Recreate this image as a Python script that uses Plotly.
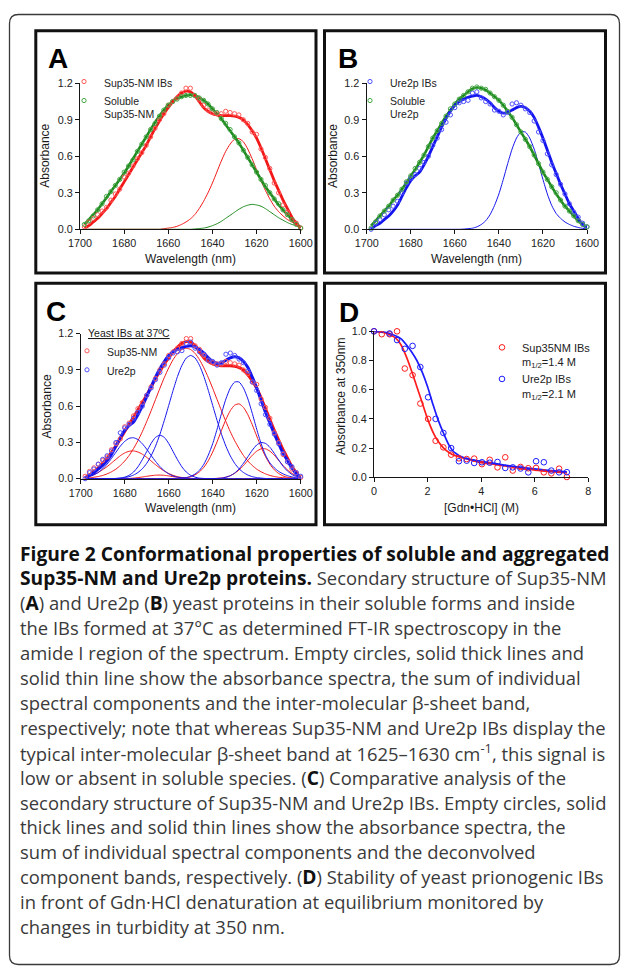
import plotly.graph_objects as go

W, H = 629, 969

# ---------------- data ----------------
# wavelength grid of the FT-IR spectra (nm, as labelled in the figure)
WL = [1698, 1696, 1694, 1692, 1690, 1688, 1686, 1684, 1682, 1680,
      1678, 1676, 1674, 1672, 1670, 1668, 1666, 1664, 1662, 1660,
      1658, 1656, 1654, 1652, 1650, 1648, 1646, 1644, 1642, 1640,
      1638, 1636, 1634, 1632, 1630, 1628, 1626, 1624, 1622, 1620,
      1618, 1616, 1614, 1612, 1610, 1608, 1606, 1604, 1602, 1600]

# Sup35-NM IBs (panels A and C)
SUP_IB_DATA = [0.02, 0.06, 0.09, 0.12, 0.15, 0.18, 0.24, 0.29, 0.33, 0.43,
               0.46, 0.52, 0.58, 0.63, 0.69, 0.76, 0.83, 0.90, 0.95, 1.02,
               1.05, 1.08, 1.12, 1.16, 1.16, 1.10, 1.07, 1.02, 0.98, 0.96,
               0.95, 0.95, 0.97, 0.96, 0.95, 0.94, 0.90, 0.87, 0.80, 0.78,
               0.66, 0.59, 0.50, 0.38, 0.30, 0.20, 0.14, 0.08, 0.05, 0.01]
SUP_IB_FIT = [0.01, 0.03, 0.06, 0.09, 0.13, 0.17, 0.22, 0.27, 0.33, 0.39,
              0.45, 0.51, 0.57, 0.63, 0.69, 0.76, 0.83, 0.89, 0.95, 1.00,
              1.05, 1.09, 1.12, 1.135, 1.13, 1.10, 1.05, 1.00, 0.97, 0.95,
              0.94, 0.935, 0.935, 0.935, 0.93, 0.92, 0.90, 0.86, 0.81, 0.75,
              0.67, 0.58, 0.49, 0.40, 0.32, 0.24, 0.17, 0.10, 0.05, 0.01]
SUP_IB_BAND = [0, 0, 0, 0, 0, 0, 0, 0, 0, 0,
               0, 0, 0, 0, 0, 0, 0, 0, 0.005, 0.01,
               0.015, 0.025, 0.04, 0.06, 0.085, 0.12, 0.17, 0.23, 0.30, 0.38,
               0.47, 0.56, 0.64, 0.70, 0.74, 0.745, 0.72, 0.66, 0.58, 0.49,
               0.40, 0.32, 0.25, 0.19, 0.145, 0.11, 0.08, 0.06, 0.04, 0.03]
# soluble Sup35-NM (panel A)
SUP_SOL_DATA = [0.04, 0.07, 0.11, 0.16, 0.21, 0.27, 0.31, 0.36, 0.41, 0.47,
                0.52, 0.57, 0.64, 0.70, 0.76, 0.82, 0.87, 0.93, 0.98, 1.02,
                1.05, 1.07, 1.09, 1.10, 1.10, 1.10, 1.08, 1.06, 1.03, 0.99,
                0.96, 0.91, 0.87, 0.82, 0.76, 0.71, 0.65, 0.59, 0.53, 0.47,
                0.41, 0.36, 0.30, 0.25, 0.21, 0.16, 0.12, 0.08, 0.04, 0.01]
SUP_SOL_FIT = [0.04, 0.08, 0.12, 0.16, 0.21, 0.26, 0.31, 0.36, 0.41, 0.46,
               0.52, 0.58, 0.64, 0.70, 0.76, 0.82, 0.88, 0.93, 0.98, 1.02,
               1.05, 1.075, 1.09, 1.10, 1.105, 1.10, 1.085, 1.06, 1.03, 0.99,
               0.95, 0.91, 0.86, 0.81, 0.76, 0.71, 0.65, 0.59, 0.53, 0.47,
               0.41, 0.35, 0.30, 0.25, 0.20, 0.16, 0.12, 0.08, 0.04, 0.01]
SUP_SOL_BAND = [0, 0, 0, 0, 0, 0, 0, 0, 0, 0,
                0, 0, 0, 0, 0, 0, 0, 0, 0, 0,
                0, 0, 0, 0, 0, 0.003, 0.006, 0.01, 0.018, 0.03,
                0.045, 0.065, 0.09, 0.115, 0.14, 0.165, 0.185, 0.198, 0.205, 0.20,
                0.19, 0.17, 0.145, 0.12, 0.095, 0.075, 0.055, 0.04, 0.03, 0.02]

# Ure2p IBs (panels B and C)
URE_IB_DATA = [0.00, 0.05, 0.08, 0.12, 0.16, 0.19, 0.23, 0.30, 0.38, 0.42,
               0.45, 0.50, 0.55, 0.60, 0.69, 0.75, 0.82, 0.88, 0.94, 1.00,
               1.04, 1.05, 1.06, 1.12, 1.13, 1.08, 1.05, 1.03, 0.98, 0.97,
               0.94, 0.96, 1.03, 1.04, 1.02, 0.99, 0.96, 0.89, 0.80, 0.73,
               0.62, 0.53, 0.45, 0.37, 0.29, 0.21, 0.14, 0.10, 0.05, 0.02]
URE_IB_FIT = [0.00, 0.03, 0.05, 0.08, 0.11, 0.15, 0.20, 0.27, 0.34, 0.40,
              0.44, 0.47, 0.53, 0.60, 0.68, 0.76, 0.84, 0.91, 0.97, 1.02,
              1.05, 1.07, 1.085, 1.095, 1.10, 1.09, 1.07, 1.04, 1.00, 0.97,
              0.955, 0.96, 0.98, 1.00, 1.01, 1.00, 0.97, 0.92, 0.84, 0.75,
              0.65, 0.55, 0.46, 0.37, 0.29, 0.21, 0.15, 0.09, 0.04, 0.01]
URE_IB_BAND = [0, 0, 0, 0, 0, 0, 0, 0, 0, 0,
               0, 0, 0, 0, 0, 0, 0, 0, 0, 0,
               0, 0.002, 0.005, 0.009, 0.02, 0.039, 0.07, 0.12, 0.195, 0.29,
               0.41, 0.54, 0.66, 0.75, 0.80, 0.80, 0.75, 0.66, 0.54, 0.41,
               0.29, 0.195, 0.13, 0.09, 0.06, 0.04, 0.025, 0.015, 0.008, 0.004]
# soluble Ure2p (panel B)
URE_SOL_DATA = [0.01, 0.06, 0.11, 0.15, 0.19, 0.24, 0.28, 0.33, 0.39, 0.44,
                0.50, 0.55, 0.61, 0.68, 0.75, 0.81, 0.87, 0.93, 0.99, 1.03,
                1.07, 1.10, 1.13, 1.16, 1.17, 1.16, 1.15, 1.12, 1.09, 1.06,
                1.02, 0.97, 0.92, 0.86, 0.80, 0.74, 0.68, 0.61, 0.54, 0.47,
                0.41, 0.35, 0.30, 0.24, 0.19, 0.15, 0.11, 0.07, 0.04, 0.02]
URE_SOL_FIT = [0.03, 0.07, 0.11, 0.15, 0.19, 0.24, 0.28, 0.33, 0.38, 0.44,
               0.49, 0.55, 0.61, 0.68, 0.75, 0.81, 0.87, 0.93, 0.98, 1.03,
               1.07, 1.10, 1.13, 1.155, 1.165, 1.16, 1.145, 1.12, 1.09, 1.06,
               1.02, 0.97, 0.92, 0.86, 0.80, 0.74, 0.68, 0.61, 0.54, 0.47,
               0.41, 0.35, 0.29, 0.24, 0.19, 0.15, 0.11, 0.07, 0.04, 0.02]

# deconvolved component bands, panel C
C_SUP_BANDS = [
    [0.013, 0.022, 0.035, 0.052, 0.075, 0.10, 0.13, 0.16, 0.19, 0.213,
     0.227, 0.23, 0.221, 0.203, 0.177, 0.147, 0.116, 0.088, 0.063, 0.043,
     0.028, 0.017, 0.010, 0.006, 0.003, 0.001, 0, 0, 0, 0,
     0, 0, 0, 0, 0, 0, 0, 0, 0, 0,
     0, 0, 0, 0, 0, 0, 0, 0, 0, 0],
    [0, 0, 0, 0, 0, 0, 0, 0, 0, 0.001,
     0.002, 0.005, 0.009, 0.014, 0.020, 0.025, 0.029, 0.03, 0.028, 0.023,
     0.017, 0.011, 0.006, 0.003, 0.001, 0, 0, 0, 0, 0,
     0, 0, 0, 0, 0, 0, 0, 0, 0, 0,
     0, 0, 0, 0, 0, 0, 0, 0, 0, 0],
    [0.005, 0.008, 0.012, 0.018, 0.027, 0.040, 0.057, 0.079, 0.109, 0.146,
     0.192, 0.249, 0.314, 0.389, 0.473, 0.562, 0.655, 0.748, 0.837, 0.917,
     0.985, 1.037, 1.069, 1.08, 1.069, 1.037, 0.985, 0.917, 0.837, 0.748,
     0.655, 0.562, 0.473, 0.389, 0.314, 0.249, 0.192, 0.146, 0.109, 0.079,
     0.057, 0.040, 0.027, 0.018, 0.012, 0.008, 0.005, 0.003, 0.002, 0.001],
    [0, 0, 0, 0, 0, 0, 0, 0, 0, 0,
     0, 0, 0, 0, 0, 0, 0, 0, 0, 0,
     0.001, 0.002, 0.004, 0.008, 0.017, 0.032, 0.057, 0.095, 0.149, 0.221,
     0.306, 0.40, 0.49, 0.563, 0.609, 0.619, 0.590, 0.529, 0.446, 0.353,
     0.262, 0.183, 0.120, 0.074, 0.043, 0.023, 0.012, 0.006, 0.003, 0.001],
    [0, 0, 0, 0, 0, 0, 0, 0, 0, 0,
     0, 0, 0, 0, 0, 0, 0, 0, 0, 0,
     0, 0, 0, 0, 0, 0, 0, 0, 0, 0.001,
     0.003, 0.006, 0.013, 0.025, 0.045, 0.073, 0.109, 0.152, 0.194, 0.228,
     0.247, 0.247, 0.228, 0.194, 0.152, 0.109, 0.073, 0.045, 0.025, 0.013],
]
C_URE_BANDS = [
    [0.009, 0.017, 0.031, 0.052, 0.082, 0.121, 0.168, 0.219, 0.269, 0.309,
     0.334, 0.339, 0.324, 0.29, 0.244, 0.193, 0.144, 0.10, 0.066, 0.040,
     0.023, 0.013, 0.006, 0.003, 0.001, 0, 0, 0, 0, 0,
     0, 0, 0, 0, 0, 0, 0, 0, 0, 0,
     0, 0, 0, 0, 0, 0, 0, 0, 0, 0],
    [0, 0, 0, 0, 0, 0, 0.001, 0.002, 0.005, 0.013,
     0.028, 0.055, 0.098, 0.157, 0.225, 0.292, 0.342, 0.36, 0.342, 0.292,
     0.225, 0.157, 0.098, 0.055, 0.028, 0.013, 0.005, 0.002, 0, 0,
     0, 0, 0, 0, 0, 0, 0, 0, 0, 0,
     0, 0, 0, 0, 0, 0, 0, 0, 0, 0],
    [0, 0, 0, 0, 0, 0, 0.001, 0.002, 0.005, 0.009,
     0.017, 0.030, 0.051, 0.082, 0.127, 0.189, 0.269, 0.367, 0.482, 0.606,
     0.731, 0.846, 0.938, 0.999, 1.02, 0.999, 0.938, 0.846, 0.731, 0.606,
     0.482, 0.367, 0.269, 0.189, 0.127, 0.082, 0.051, 0.030, 0.017, 0.009,
     0.005, 0.002, 0.001, 0, 0, 0, 0, 0, 0, 0],
    URE_IB_BAND,
    [0, 0, 0, 0, 0, 0, 0, 0, 0, 0,
     0, 0, 0, 0, 0, 0, 0, 0, 0, 0,
     0, 0, 0, 0, 0, 0, 0, 0, 0, 0.001,
     0.002, 0.005, 0.012, 0.025, 0.047, 0.081, 0.128, 0.182, 0.236, 0.279,
     0.299, 0.292, 0.26, 0.21, 0.154, 0.103, 0.063, 0.035, 0.017, 0.008],
]

# panel D: Gdn.HCl denaturation (turbidity at 350 nm)
GDN = [0, 0.29, 0.58, 0.86, 1.15, 1.44, 1.73, 2.02, 2.30, 2.59,
       2.88, 3.17, 3.46, 3.74, 4.03, 4.32, 4.61, 4.90, 5.18, 5.47,
       5.76, 6.05, 6.34, 6.62, 6.91, 7.20]
SUP_GDN = [1.00, 0.98, 0.98, 1.00, 0.745, 0.70, 0.505, 0.40, 0.25, 0.205,
           0.155, 0.13, 0.125, 0.128, 0.09, 0.12, 0.068, 0.137, 0.046, 0.071,
           0.062, 0.064, 0.034, 0.027, 0.059, 0.002]
URE_GDN = [1.00, 1.005, 0.985, 0.94, 0.88, 0.90, 0.755, 0.548, 0.40, 0.304,
           0.20, 0.11, 0.114, 0.098, 0.103, 0.10, 0.105, 0.064, 0.068, 0.06,
           0.034, 0.11, 0.103, 0.046, 0.034, 0.035]
GDN_FIT = [0, 0.4, 0.8, 1.0, 1.2, 1.4, 1.6, 1.8, 2.0, 2.2, 2.4,
           2.6, 2.8, 3.0, 3.4, 4.0, 4.5, 5.0, 5.5, 6.0, 6.5, 7.2]
SUP_GDN_FIT = [1.0, 0.99, 0.955, 0.91, 0.83, 0.73, 0.62, 0.51, 0.40, 0.31, 0.245,
               0.20, 0.17, 0.15, 0.13, 0.10, 0.088, 0.075, 0.06, 0.05, 0.04, 0.03]
URE_GDN_FIT = [1.0, 0.995, 0.97, 0.95, 0.91, 0.86, 0.80, 0.72, 0.62, 0.50, 0.39,
               0.30, 0.22, 0.17, 0.13, 0.11, 0.095, 0.08, 0.068, 0.058, 0.048, 0.037]

WL_TICKS = [1700, 1680, 1660, 1640, 1620, 1600]
ABS_TICKS = [0.0, 0.3, 0.6, 0.9, 1.2]
GDN_TICKS = [0, 2, 4, 6, 8]
D_TICKS = [0.0, 0.2, 0.4, 0.6, 0.8, 1.0]

for arr in [SUP_IB_DATA, SUP_IB_FIT, SUP_IB_BAND, SUP_SOL_DATA, SUP_SOL_FIT, SUP_SOL_BAND,
            URE_IB_DATA, URE_IB_FIT, URE_IB_BAND, URE_SOL_DATA, URE_SOL_FIT] + C_SUP_BANDS + C_URE_BANDS:
    assert len(arr) == len(WL), len(arr)
assert len(SUP_GDN) == len(GDN) and len(URE_GDN) == len(GDN)
assert len(SUP_GDN_FIT) == len(GDN_FIT) and len(URE_GDN_FIT) == len(GDN_FIT)

B0 = "<b><span style='font-size:19.2px;color:#111'>"
B1 = "</span></b>"
CAPTION = [
    B0 + "Figure 2 Conformational properties of soluble and aggregated" + B1,
    B0 + "Sup35-NM and Ure2p proteins." + B1 + " Secondary structure of Sup35-NM",
    "(" + B0 + "A" + B1 + ") and Ure2p (" + B0 + "B" + B1 + ") yeast proteins in their soluble forms and inside",
    "the IBs formed at 37°C as determined FT-IR spectroscopy in the",
    "amide I region of the spectrum. Empty circles, solid thick lines and",
    "solid thin line show the absorbance spectra, the sum of individual",
    "spectral components and the inter-molecular β-sheet band,",
    "respectively; note that whereas Sup35-NM and Ure2p IBs display the",
    "typical inter-molecular β-sheet band at 1625–1630 cm<sup>-1</sup>, this signal is",
    "low or absent in soluble species. (" + B0 + "C" + B1 + ") Comparative analysis of the",
    "secondary structure of Sup35-NM and Ure2p IBs. Empty circles, solid",
    "thick lines and solid thin lines show the absorbance spectra, the",
    "sum of individual spectral components and the deconvolved",
    "component bands, respectively. (" + B0 + "D" + B1 + ") Stability of yeast prionogenic IBs",
    "in front of Gdn·HCl denaturation at equilibrium monitored by",
    "changes in turbidity at 350 nm.",
]

# ---------------- styling / layout helpers ----------------
# the page places the figure 8 px from the window's top-left corner (body margin),
# so positions measured on the picture are converted with that offset
OFF = 8


def fx(p):
    return (p - OFF) / W


def fy(p):
    return 1 - (p - OFF) / H


AXF = "Liberation Sans, Arial, Helvetica, sans-serif"
CAPF = "Open Sans, Noto Sans, sans-serif"
RED, RED_PT = "#f21818", "#ff5858"
GRN, GRN_PT = "#1f8a1f", "#45a845"
BLU, BLU_PT = "#1414ee", "#4f4fff"
D_RED, D_BLU = "#ff1c1c", "#1c1cff"

fig = go.Figure()


def add_line(x, y, color, width, ax):
    fig.add_trace(go.Scatter(
        x=x, y=y, mode="lines", xaxis="x" + ax, yaxis="y" + ax,
        line=dict(color=color, width=width, shape="spline", smoothing=0.6),
        showlegend=False, hoverinfo="skip"))


def add_points(x, y, color, ax, name, legend, size=4.2, lw=1.0):
    fig.add_trace(go.Scatter(
        x=x, y=y, mode="markers", xaxis="x" + ax, yaxis="y" + ax,
        name=name, legend=legend,
        marker=dict(symbol="circle-open", size=size, color=color,
                    line=dict(width=lw, color=color)),
        cliponaxis=False, hoverinfo="skip"))


# panel A
add_line(WL, SUP_IB_BAND, RED, 1, "")
add_line(WL, SUP_SOL_BAND, GRN, 1, "")
add_line(WL, SUP_SOL_FIT, GRN, 2.6, "")
add_line(WL, SUP_IB_FIT, RED, 2.8, "")
add_points(WL, SUP_IB_DATA, RED_PT, "", "Sup35-NM IBs", "legend")
add_points(WL, SUP_SOL_DATA, GRN_PT, "", "Soluble<br>Sup35-NM", "legend")

# panel B
add_line(WL, URE_IB_BAND, BLU, 1, "2")
add_line(WL, URE_SOL_FIT, GRN, 2.6, "2")
add_line(WL, URE_IB_FIT, BLU, 2.8, "2")
add_points(WL, URE_IB_DATA, BLU_PT, "2", "Ure2p IBs", "legend2")
add_points(WL, URE_SOL_DATA, GRN_PT, "2", "Soluble<br>Ure2p", "legend2")

# panel C
for band in C_SUP_BANDS:
    add_line(WL, band, RED, 1, "3")
for band in C_URE_BANDS:
    add_line(WL, band, BLU, 1, "3")
add_line(WL, SUP_IB_FIT, RED, 3, "3")
add_line(WL, URE_IB_FIT, BLU, 3, "3")
add_points(WL, SUP_IB_DATA, RED_PT, "3", "Sup35-NM", "legend3")
add_points(WL, URE_IB_DATA, BLU_PT, "3", "Ure2p", "legend3")

# panel D
add_line(GDN_FIT, SUP_GDN_FIT, D_RED, 1.7, "4")
add_line(GDN_FIT, URE_GDN_FIT, D_BLU, 1.7, "4")
add_points(GDN, SUP_GDN, D_RED, "4", "Sup35NM IBs<br>m<sub>1/2</sub>=1.4 M", "legend4", size=5.6)
add_points(GDN, URE_GDN, D_BLU, "4", "Ure2p IBs<br>m<sub>1/2</sub>=2.1 M", "legend4", size=5.6)

AX = dict(showline=True, linecolor="#151515", linewidth=1.3, ticks="outside", ticklen=4,
          tickwidth=1.3, tickcolor="#151515", showgrid=False, zeroline=False, automargin=False,
          tickfont=dict(family=AXF, size=10.8, color="#222"), fixedrange=True)


def xdom(a, b):
    return [fx(a), fx(b)]


def ydom(bottom, top):
    return [fy(bottom), fy(top)]


layout = dict(
    width=W, height=H, autosize=False, margin=dict(l=0, r=0, t=0, b=0, pad=0),
    paper_bgcolor="white", plot_bgcolor="rgba(0,0,0,0)",
    xaxis=dict(AX, domain=xdom(80, 300.7), range=[1700, 1600], tickvals=WL_TICKS, anchor="y"),
    yaxis=dict(AX, domain=ydom(229.3, 83.3), range=[0, 1.2], tickvals=ABS_TICKS, tickformat=".1f", anchor="x"),
    xaxis2=dict(AX, domain=xdom(366.7, 587), range=[1700, 1600], tickvals=WL_TICKS, anchor="y2"),
    yaxis2=dict(AX, domain=ydom(229.3, 83.3), range=[0, 1.2], tickvals=ABS_TICKS, tickformat=".1f", anchor="x2"),
    xaxis3=dict(AX, domain=xdom(80.7, 300.7), range=[1700, 1600], tickvals=WL_TICKS, anchor="y3"),
    yaxis3=dict(AX, domain=ydom(478.7, 333.7), range=[0, 1.2], tickvals=ABS_TICKS, tickformat=".1f", anchor="x3"),
    xaxis4=dict(AX, domain=xdom(374, 588.3), range=[0, 8], tickvals=GDN_TICKS, anchor="y4"),
    yaxis4=dict(AX, domain=ydom(477.3, 331.3), range=[0, 1.0], tickvals=D_TICKS, tickformat=".1f", anchor="x4"),
)

LEG = dict(bgcolor="rgba(0,0,0,0)", borderwidth=0, xanchor="left", yanchor="top", valign="top",
           itemwidth=30, tracegroupgap=0, orientation="v",
           font=dict(family=AXF, size=10.5, color="#222"))
layout["legend"] = dict(LEG, x=fx(64), y=fy(68.2))
layout["legend2"] = dict(LEG, x=fx(350), y=fy(68.2))
layout["legend3"] = dict(LEG, x=fx(67), y=fy(337.5))
layout["legend4"] = dict(LEG, x=fx(482), y=fy(333.7), font=dict(family=AXF, size=11, color="#222"))

# panel frames and the outer rounded border
shapes = []
for (x0, y0, x1, y1) in [(35.8, 30.8, 316, 273), (324.5, 30.8, 605.5, 273),
                         (35.8, 283.2, 316, 524.7), (324.5, 283.2, 605.5, 524.7)]:
    shapes.append(dict(type="rect", xref="paper", yref="paper",
                       x0=fx(x0), x1=fx(x1), y0=fy(y1), y1=fy(y0),
                       line=dict(color="#111", width=3), fillcolor="rgba(0,0,0,0)"))
bx0, by0, bx1, by1, r = 9.5, 14.5, 619.5, 964.5, 9


def P(x, y):
    return f"{fx(x):.5f},{fy(y):.5f}"


path = (f"M{P(bx0 + r, by0)} L{P(bx1 - r, by0)} Q{P(bx1, by0)} {P(bx1, by0 + r)} "
        f"L{P(bx1, by1 - r)} Q{P(bx1, by1)} {P(bx1 - r, by1)} "
        f"L{P(bx0 + r, by1)} Q{P(bx0, by1)} {P(bx0, by1 - r)} "
        f"L{P(bx0, by0 + r)} Q{P(bx0, by0)} {P(bx0 + r, by0)} Z")
shapes.append(dict(type="path", xref="paper", yref="paper", path=path,
                   line=dict(color="#3a3a3a", width=1.3)))
layout["shapes"] = shapes

ann = []


def text(x, y, s, size, family=AXF, color="#1a1a1a", xanchor="center", angle=0):
    ann.append(dict(x=fx(x), y=fy(y), xref="paper", yref="paper", text=s, showarrow=False,
                    xanchor=xanchor, yanchor="middle", textangle=angle,
                    font=dict(family=family, size=size, color=color)))


# panel letters
for letter, (x, y) in zip("ABCD", [(57.5, 58.3), (348, 58.7), (55.8, 311.3), (348.7, 312)]):
    text(x, y, f"<b>{letter}</b>", 28, color="#000")
# axis titles
text(45.5, 156.3, "Absorbance", 12, angle=-90)
text(333.7, 156.3, "Absorbance", 12, angle=-90)
text(47.2, 406.2, "Absorbance", 12, angle=-90)
text(341, 397, "Absorbance at 350nm", 12, angle=-90)
text(190.3, 259.3, "Wavelength (nm)", 12)
text(476.7, 259.3, "Wavelength (nm)", 12)
text(190.7, 508, "Wavelength (nm)", 12)
text(481, 508, "[Gdn•HCl] (M)", 12)
# panel C legend heading
text(86, 333.3, "<u>Yeast IBs at 37ºC</u>", 10.5, xanchor="left")

# caption
for i, line in enumerate(CAPTION):
    text(18, 553 + 24.9 * i, line, 18.4, family=CAPF, color="#3a3a3a", xanchor="left")

layout["annotations"] = ann
fig.update_layout(**layout)
fig.write_html("out.html")
